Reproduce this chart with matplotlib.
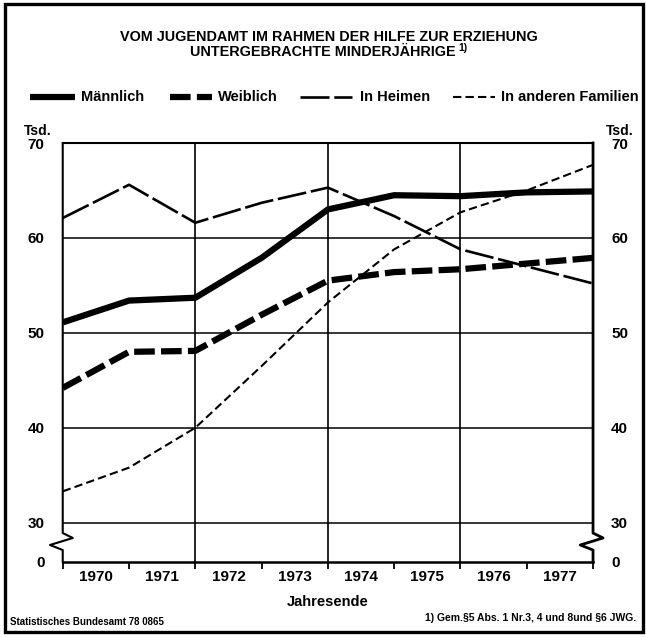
import numpy as np
import matplotlib
matplotlib.use('Agg')
import matplotlib.pyplot as plt
from matplotlib.lines import Line2D
from matplotlib.patches import Rectangle

plt.rcParams['font.family'] = ['Liberation Sans', 'DejaVu Sans']
plt.rcParams['font.weight'] = 'bold'

# Bestand jeweils am Jahresende (in Tsd.)
jahresende = [1969, 1970, 1971, 1972, 1973, 1974, 1975, 1976, 1977]
maennlich = [51.1, 53.4, 53.7, 57.9, 63.0, 64.5, 64.4, 64.8, 64.9]
weiblich = [44.2, 48.0, 48.1, 51.9, 55.5, 56.4, 56.7, 57.3, 57.9]
heimen = [62.1, 65.6, 61.6, 63.7, 65.3, 62.3, 58.8, 57.0, 55.2]
familien = [33.3, 35.8, 40.0, 46.5, 53.2, 58.8, 62.7, 65.0, 67.7]
jahre = ['1970', '1971', '1972', '1973', '1974', '1975', '1976', '1977']
namen = ['Männlich', 'Weiblich', 'In Heimen', 'In anderen Familien']
yticks = [30, 40, 50, 60, 70]

W, H = 646, 637
fig = plt.figure(figsize=(W / 100, H / 100), dpi=100)
ax = fig.add_axes([0.0971, 0.1182, 0.8209, 0.6573])


def fx(px):
    return px / W


def fy(py):
    return 1 - py / H


x = np.array(jahresende) + 1
ybot = 25.89
ax.set_xlim(1970, 1978)
ax.set_ylim(ybot, 70)

stile = [dict(lw=4.5, ls='-', solid_capstyle='butt'),
         dict(lw=4.5, ls=(0, (3.3, 1.0)), dash_capstyle='butt'),
         dict(lw=1.9, ls=(0, (11, 1.8))),
         dict(lw=1.5, ls=(0, (4, 2)))]
for serie, st in zip([maennlich, weiblich, heimen, familien], stile):
    ax.plot(x, serie, color='black', zorder=3, **st)

# Gitter
for v in yticks[:-1]:
    ax.axhline(v, color='black', lw=1.1, zorder=1)
for j in [1972, 1974, 1976]:
    ax.plot([j, j], [ybot, 70], color='black', lw=1.2, zorder=1)

# Achsen mit Bruch zwischen 0 und 30
for s in ['left', 'right']:
    ax.spines[s].set_visible(False)
ax.spines['top'].set_linewidth(1.5)
ax.spines['bottom'].set_linewidth(1.8)
tr = ax.get_yaxis_transform()
zx = [0, 0, 0.019, -0.024, 0, 0]
zy = [70, 28.91, 28.39, 27.65, 27.12, ybot]
ax.plot(zx, zy, transform=tr, color='black', lw=1.5, clip_on=False)
ax.plot([1 + v for v in zx], zy, transform=tr, color='black', lw=2.0, clip_on=False)

ax.set_yticks([ybot] + yticks)
ax.set_yticklabels(['0'] + [str(v) for v in yticks])
ax.tick_params(axis='y', length=0, labelsize=11, labelright=True, pad=13)

ax.set_xticks(np.arange(1970, 1979))
ax.set_xticklabels([])
ax.tick_params(axis='x', which='major', direction='out', length=5, width=1.3)
ax.set_xticks(np.arange(1970.5, 1978), minor=True)
ax.set_xticklabels(jahre, minor=True)
ax.tick_params(axis='x', which='minor', length=0, labelsize=11, pad=6)
ax.set_xlabel('Jahresende', fontsize=10.5, fontweight='bold', labelpad=8)

fig.text(fx(38), fy(131), 'Tsd.', ha='center', va='center', fontsize=10)
fig.text(fx(620), fy(131), 'Tsd.', ha='center', va='center', fontsize=10)

# Titel
fig.text(fx(329), fy(37), 'VOM JUGENDAMT IM RAHMEN DER HILFE ZUR ERZIEHUNG',
         ha='center', va='center', fontsize=10.4, fontweight='bold')
t2 = fig.text(fx(323), fy(52), 'UNTERGEBRACHTE MINDERJÄHRIGE',
              ha='center', va='center', fontsize=10.4, fontweight='bold')
ax.annotate('1)', xy=(1.0, 0.8), xycoords=t2, xytext=(1.5, 0), textcoords='offset points',
            ha='left', va='center', fontsize=7.5, fontweight='bold')

# Legende
leg_pos = [(30, 75, 81), (170, 212, 218), (300, 352, 360), (453, 495, 501)]
for (x0, x1, xt), name, st in zip(leg_pos, namen, stile):
    fig.add_artist(Line2D([fx(x0), fx(x1)], [fy(97), fy(97)], color='black', **st))
    fig.text(fx(xt), fy(97), name, ha='left', va='center', fontsize=10.5)

fig.text(fx(10), fy(622), 'Statistisches Bundesamt 78 0865', ha='left', va='center', fontsize=7)
fig.text(fx(636), fy(618), '1) Gem.§5 Abs. 1 Nr.3, 4 und 8und §6 JWG.', ha='right', va='center',
         fontsize=7.5)

fig.add_artist(Rectangle((fx(5), fy(632)), fx(638), fy(4) - fy(632),
                         transform=fig.transFigure, fill=False, edgecolor='black', lw=2.4))

fig.savefig('out.png', dpi=100)
